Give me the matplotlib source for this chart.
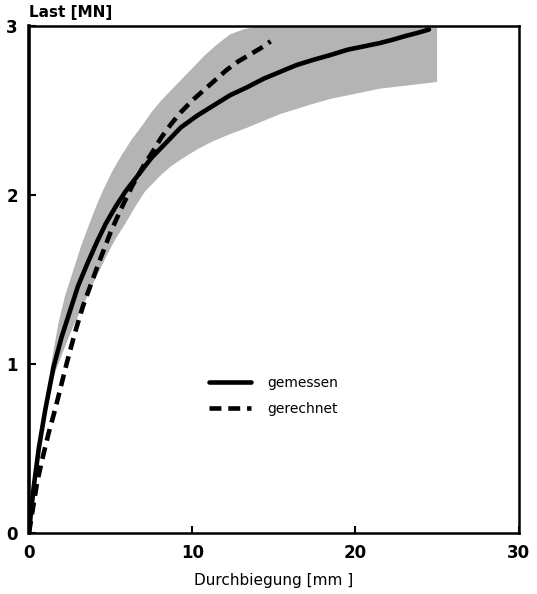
import matplotlib
matplotlib.use("Agg")
import matplotlib.pyplot as plt

# gemessen (measured)
gem_x = [0, 0.1, 0.3, 0.6, 1.0, 1.5, 2.0, 2.5, 3.0, 3.6, 4.2, 4.7, 5.3, 5.9, 6.7, 7.5, 8.4, 9.3,
         10.3, 11.3, 12.3, 13.4, 14.4, 15.4, 16.4, 17.4, 18.5, 19.5, 20.5, 21.5, 22.3, 23.0, 23.8, 24.5]
gem_y = [0, 0.1, 0.28, 0.5, 0.73, 0.98, 1.16, 1.31, 1.46, 1.60, 1.73, 1.83, 1.93, 2.02, 2.12, 2.22, 2.31, 2.40,
         2.47, 2.53, 2.59, 2.64, 2.69, 2.73, 2.77, 2.80, 2.83, 2.86, 2.88, 2.90, 2.92, 2.94, 2.96, 2.98]

# gerechnet (calculated)
ger_x = [0, 0.2, 0.5, 0.8, 1.2, 1.6, 2.3, 2.8, 3.3, 3.9, 4.4, 5.0, 5.6, 6.3, 7.0, 7.6, 8.1, 8.7, 9.3,
         10.0, 10.7, 11.4, 12.1, 12.8, 13.5, 14.2, 14.8]
ger_y = [0, 0.12, 0.3, 0.43, 0.59, 0.73, 1.0, 1.18, 1.34, 1.50, 1.63, 1.78, 1.91, 2.05, 2.17, 2.26, 2.34, 2.42, 2.49,
         2.56, 2.62, 2.68, 2.74, 2.79, 2.83, 2.87, 2.91]

# scatter band (upper / lower edge)
up_x = [1.0, 1.4, 1.8, 2.2, 2.7, 3.2, 3.7, 4.1, 4.5, 5.1, 5.7, 6.3, 7.0, 7.5, 8.1, 8.7, 9.3, 10.0, 10.8,
        11.5, 12.3, 13.1, 14.0, 25.0]
up_y = [0.75, 1.02, 1.24, 1.40, 1.55, 1.70, 1.83, 1.93, 2.02, 2.14, 2.24, 2.33, 2.42, 2.49, 2.56, 2.62, 2.68,
        2.75, 2.83, 2.89, 2.95, 2.98, 3.0, 3.0]
lo_x = [1.0, 1.6, 2.2, 2.7, 3.3, 4.0, 4.7, 5.3, 5.9, 6.5, 7.1, 7.6, 8.1, 8.7, 9.3, 10.3, 11.3, 12.3, 13.4,
        14.4, 15.4, 16.4, 17.4, 18.5, 19.5, 20.5, 21.5, 22.4, 23.3, 24.2, 25.0]
lo_y = [0.75, 0.95, 1.10, 1.22, 1.34, 1.49, 1.63, 1.74, 1.83, 1.93, 2.02, 2.07, 2.12, 2.17, 2.21, 2.27, 2.32,
        2.36, 2.40, 2.44, 2.48, 2.51, 2.54, 2.57, 2.59, 2.61, 2.63, 2.64, 2.65, 2.66, 2.67]

fig = plt.figure(figsize=(5.37, 5.94), dpi=100)
ax = fig.add_axes([0.054, 0.103, 0.912, 0.853])

ax.fill(up_x + lo_x[::-1], up_y + lo_y[::-1], facecolor="#b4b4b4", edgecolor="none", zorder=1)
ax.plot(gem_x, gem_y, color="black", lw=3.3, solid_capstyle="round", solid_joinstyle="round",
        label="gemessen", zorder=3)
ax.plot(ger_x, ger_y, color="black", lw=3.3, linestyle=(0, (2.6, 1.5)), label="gerechnet", zorder=3)

ax.set_xlim(0, 30)
ax.set_ylim(0, 3)
ax.set_xticks([0, 10, 20, 30])
ax.set_yticks([0, 1, 2, 3])
ax.tick_params(direction="in", length=5, width=1.5, labelsize=12, pad=8)
for lab in ax.get_xticklabels() + ax.get_yticklabels():
    lab.set_fontweight("bold")
for s in ax.spines.values():
    s.set_linewidth(1.8)
ax.spines["left"].set_linewidth(2.6)

ax.set_xlabel("Durchbiegung [mm ]", fontsize=11, labelpad=8)
ax.text(0.0, 1.012, "Last [MN]", transform=ax.transAxes, fontsize=11, fontweight="bold",
        ha="left", va="bottom")

ax.legend(loc="center", bbox_to_anchor=(0.50, 0.27), frameon=False, fontsize=10,
          handlelength=3.0, handletextpad=1.2, labelspacing=0.9)

fig.savefig("out.png", dpi=100)
